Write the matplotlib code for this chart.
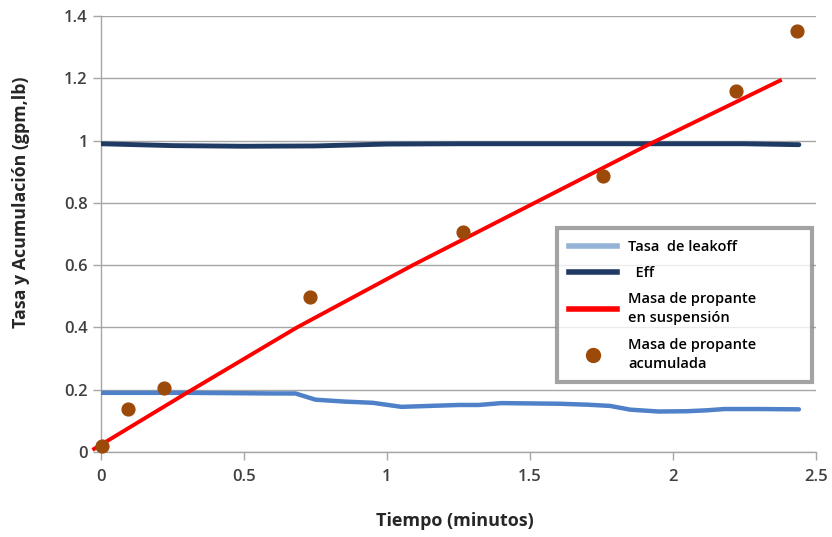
import matplotlib
matplotlib.use("Agg")
import matplotlib.pyplot as plt
from matplotlib.lines import Line2D

plt.rcParams['font.family'] = ['Open Sans', 'DejaVu Sans']

# Data
leak_t = [0.0, 0.3, 0.6, 0.68, 0.75, 0.85, 0.95, 1.05, 1.15, 1.25, 1.32, 1.4, 1.5, 1.6, 1.7, 1.78, 1.85, 1.95, 2.05, 2.12, 2.18, 2.3, 2.44]
leak_v = [0.19, 0.19, 0.188, 0.188, 0.168, 0.162, 0.158, 0.145, 0.148, 0.151, 0.151, 0.157, 0.156, 0.155, 0.152, 0.148, 0.136, 0.13, 0.131, 0.134, 0.138, 0.138, 0.137]

eff_t = [0.0, 0.25, 0.5, 0.75, 1.0, 1.25, 1.5, 1.75, 2.0, 2.25, 2.44]
eff_v = [0.99, 0.984, 0.982, 0.983, 0.989, 0.99, 0.99, 0.99, 0.99, 0.99, 0.987]

susp_t = [-0.024, 0.30, 0.685, 1.09, 1.92, 2.374]
susp_v = [0.01, 0.19, 0.40, 0.60, 0.99, 1.193]

acum_t = [0.005, 0.095, 0.22, 0.73, 1.265, 1.755, 2.22, 2.435]
acum_v = [0.02, 0.138, 0.205, 0.498, 0.707, 0.887, 1.158, 1.352]

xticks = [0, 0.5, 1, 1.5, 2, 2.5]
xtick_labels = ["0", "0.5", "1", "1.5", "2", "2.5"]
yticks = [0, 0.2, 0.4, 0.6, 0.8, 1.0, 1.2, 1.4]
ytick_labels = ["0", "0.2", "0.4", "0.6", "0.8", "1", "1.2", "1.4"]

fig = plt.figure(figsize=(8.32, 5.37), dpi=100)
ax = fig.add_axes([0.1214, 0.1583, 0.8594, 0.8117])

grid_c = '#A6A6A6'
for y in yticks:
    ax.axhline(y, color=grid_c, lw=1.0, zorder=0)

ax.plot(leak_t, leak_v, color='#4F81C8', lw=3.2, solid_capstyle='round', zorder=3)
ax.plot(eff_t, eff_v, color='#1F3B63', lw=3.5, solid_capstyle='round', zorder=3)
ax.plot(susp_t, susp_v, color='#FF0000', lw=2.8, clip_on=False, zorder=4)
ax.scatter(acum_t, acum_v, s=85, color='#9C4A0A', zorder=5, clip_on=False)

ax.set_xlim(0, 2.5)
ax.set_ylim(0, 1.4)
ax.set_xticks(xticks)
ax.set_xticklabels(xtick_labels)
ax.set_yticks(yticks)
ax.set_yticklabels(ytick_labels)

for s in ['top', 'right']:
    ax.spines[s].set_visible(False)
for s in ['left', 'bottom']:
    ax.spines[s].set_color(grid_c)
    ax.spines[s].set_linewidth(1.0)
ax.tick_params(axis='both', direction='out', length=6, color=grid_c, width=1.0,
               labelsize=12, labelcolor='#404040')
ax.tick_params(axis='x', pad=6)
for lab in ax.get_xticklabels() + ax.get_yticklabels():
    lab.set_fontweight('semibold')

ax.set_xlabel('Tiempo (minutos)', fontsize=13, fontweight='bold', color='#262626')
ax.set_ylabel('Tasa y Acumulación (gpm,lb)', fontsize=12.8, fontweight='bold', color='#262626')
ax.xaxis.set_label_coords(0.495, -0.138)
ax.yaxis.set_label_coords(-0.099, 0.572)

handles = [
    Line2D([0], [0], color='#95B3D7', lw=4),
    Line2D([0], [0], color='#1F3864', lw=4),
    Line2D([0], [0], color='#FF0000', lw=4),
    Line2D([0], [0], marker='o', color='none', markerfacecolor='#9C4A0A', markeredgecolor='#9C4A0A', markersize=10),
]
labels = ['Tasa  de leakoff', '  Eff', 'Masa de propante\nen suspensión', 'Masa de propante\nacumulada']
leg = ax.legend(handles, labels, loc='upper left', bbox_to_anchor=(0.638, 0.0, 0.357, 0.514),
                mode='expand', borderaxespad=0.0, frameon=True, fancybox=False,
                handlelength=3.3, handletextpad=0.75,
                borderpad=0.8, labelspacing=0.85, prop={'weight': 'semibold', 'size': 10.5})
for t in leg.get_texts():
    t.set_linespacing(1.45)
leg.get_frame().set_edgecolor('#8C8C8C')
leg.get_frame().set_linewidth(3)
leg.get_frame().set_facecolor('white')
leg.set_zorder(10)

fig.savefig('out.png', dpi=100)
